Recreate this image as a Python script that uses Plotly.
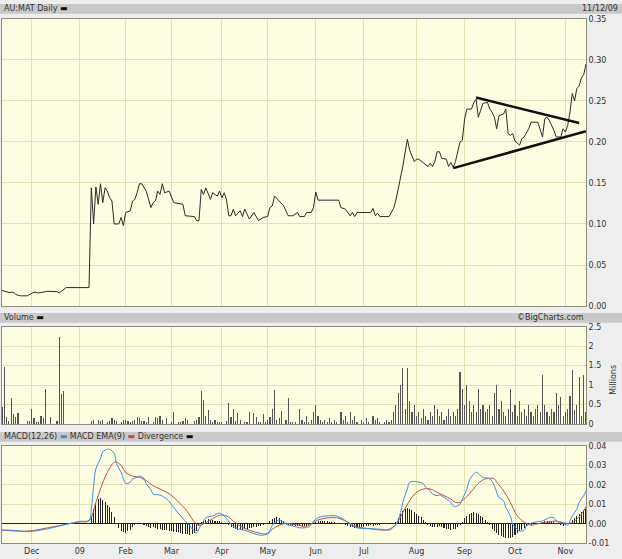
import pandas as pd
import plotly.graph_objects as go

# ---------------- calendar (ASX trading days) ----------------
holidays = ["2008-12-25", "2008-12-26", "2009-01-01", "2009-01-26",
            "2009-04-10", "2009-04-13", "2009-06-08"]
dates = [d for d in pd.bdate_range("2008-11-12", "2009-11-13")
         if d.strftime("%Y-%m-%d") not in holidays]
days = list(range(len(dates)))
month_start = [i for i in range(1, len(dates)) if dates[i].month != dates[i - 1].month]
month_labels = ["Dec", "09", "Feb", "Mar", "Apr", "May", "Jun", "Jul", "Aug", "Sep", "Oct", "Nov"]

# ---------------- price (daily close, AUD) : turning points ----------------
price_day = [0, 3, 5, 6, 8, 11, 14, 16, 18, 20, 24, 25, 28, 38, 39, 40, 41, 42, 43, 44,
             45, 46, 47, 48, 49, 51, 52, 53, 54, 56, 57, 58, 59, 60, 61, 63, 64, 65, 66, 67,
             68, 69, 70, 71, 73, 75, 79, 80, 84, 85, 86, 87, 88, 89, 91, 92, 94, 95, 96, 97,
             98, 99, 100, 101, 102, 104, 105, 106, 108, 110, 112, 114, 116, 117, 118, 119, 121, 123, 125, 127,
             129, 130, 132, 133, 135, 136, 137, 138, 147, 148, 150, 152, 153, 154, 155, 161, 162, 163, 164, 165,
             169, 171, 172, 173, 175, 177, 178, 180, 181, 182, 184, 185, 186, 187, 188, 189, 190, 191, 192, 194,
             195, 196, 197, 198, 200, 201, 202, 203, 205, 206, 207, 208, 209, 210, 212, 213, 214, 215, 216, 217,
             219, 220, 221, 222, 223, 224, 226, 227, 228, 230, 231, 234, 236, 237, 238, 239, 241, 242, 244, 245,
             246, 247, 248, 249, 250, 251, 252, 253, 254, 255]
price = [0.019, 0.0165, 0.017, 0.014, 0.0125, 0.0125, 0.017, 0.016, 0.017, 0.018, 0.0175, 0.016, 0.0225, 0.0225, 0.144, 0.100, 0.145, 0.124, 0.149, 0.126,
         0.144, 0.140, 0.132, 0.128, 0.100, 0.100, 0.108, 0.098, 0.114, 0.116, 0.128, 0.130, 0.138, 0.149, 0.149, 0.140, 0.130, 0.120, 0.126, 0.128,
         0.140, 0.136, 0.149, 0.138, 0.140, 0.126, 0.124, 0.110, 0.109, 0.104, 0.104, 0.142, 0.136, 0.144, 0.130, 0.138, 0.134, 0.140, 0.132, 0.138,
         0.130, 0.110, 0.110, 0.118, 0.110, 0.116, 0.109, 0.118, 0.106, 0.114, 0.104, 0.108, 0.109, 0.120, 0.122, 0.134, 0.128, 0.122, 0.110, 0.110,
         0.114, 0.109, 0.109, 0.114, 0.114, 0.120, 0.139, 0.129, 0.129, 0.120, 0.118, 0.110, 0.114, 0.109, 0.114, 0.114, 0.119, 0.110, 0.113, 0.109,
         0.109, 0.119, 0.129, 0.142, 0.170, 0.203, 0.190, 0.176, 0.179, 0.179, 0.174, 0.172, 0.170, 0.174, 0.170, 0.176, 0.188, 0.188, 0.180, 0.179,
         0.170, 0.175, 0.169, 0.176, 0.200, 0.202, 0.228, 0.240, 0.240, 0.248, 0.252, 0.230, 0.240, 0.247, 0.248, 0.240, 0.236, 0.230, 0.216, 0.232,
         0.234, 0.240, 0.210, 0.208, 0.210, 0.201, 0.196, 0.204, 0.206, 0.216, 0.224, 0.224, 0.206, 0.228, 0.230, 0.226, 0.214, 0.206, 0.206, 0.216,
         0.212, 0.220, 0.236, 0.259, 0.250, 0.265, 0.268, 0.278, 0.282, 0.295]

# hand-drawn triangle trend lines
trend_hi_day = [207, 252]
trend_hi = [0.254, 0.223]
trend_lo_day = [197, 255]
trend_lo = [0.168, 0.213]

# ---------------- volume (millions), one per trading day ----------------
volume = [0.45, 1.47, 0.18, 0.08, 0.66, 0.26, 0.18, 0.28, 0, 0,
          0, 0.08, 0.08, 0.38, 0.15, 0.05, 0.05, 0.2, 0.15, 0.9,
          0, 0.18, 0, 0, 0.08, 2.24, 0.77, 0.84, 0, 0,
          0, 0, 0, 0, 0, 0, 0, 0, 0, 0.08,
          0.1, 0, 0.1, 0.08, 0.1, 0, 0.05, 0.08, 0.15, 0.1,
          0.08, 0, 0.05, 0.1, 0.1, 0.08, 0.05, 0.08, 0.1, 0.18,
          0.15, 0.08, 0.08, 0.05, 0.18, 0, 0.05, 0.18, 0.15, 0.22,
          0.1, 0, 0.15, 0, 0.05, 0.3, 0, 0.05, 0.05, 0.08,
          0.15, 0.1, 0, 0, 0.08, 0.1, 0.18, 0.86, 0.63, 0.2,
          0.37, 0.1, 0.05, 0.1, 0.05, 0.05, 0.05, 0, 0.08, 0.54,
          0.18, 0.4, 0.08, 0.29, 0.1, 0, 0.05, 0.05, 0.3, 0,
          0.28, 0.18, 0.05, 0.05, 0.25, 0.05, 0.1, 0.18, 0.38, 0.88,
          0.1, 0.15, 0.33, 0, 0.1, 0.67, 0.05, 0.05, 0.05, 0,
          0.4, 0.1, 0.05, 0.2, 0.05, 0.1, 0.3, 0.5, 0.2, 0.1,
          0.05, 0.1, 0.05, 0.15, 0.05, 0.1, 0.05, 0, 0.3, 0.1,
          0.2, 0.05, 0.3, 0.1, 0.2, 0.05, 0, 0.1, 0.05, 0.15,
          0.05, 0, 0.2, 0.1, 0.15, 0.05, 0, 0.05, 0.1, 0.05,
          0.1, 0.3, 0.5, 0.8, 1.0, 1.45, 0.4, 1.45, 0.6, 0.3,
          0.5, 0.2, 0.3, 0.15, 0.4, 0.2, 0.1, 0.3, 0.2, 0.5,
          0.4, 0.2, 0.3, 0.1, 0.2, 0.4, 0.2, 0.3, 0.2, 0.4,
          1.35, 0.9, 0.5, 1.0, 0.6, 0.3, 0.5, 0.3, 0.9, 0.4,
          0.5, 0.3, 0.4, 0.5, 0.2, 0.8, 1.0, 0.4, 0.6, 0.3,
          0.2, 0.4, 0.9, 0.3, 0.5, 0.2, 0.6, 0.3, 0.4, 0.2,
          0.5, 0.3, 0.2, 0.4, 0.5, 0.3, 1.25, 0.5, 0.3, 0.2,
          0.4, 0.3, 0.8, 0.5, 0.69, 0.2, 0.3, 0.4, 0.73, 1.39,
          0.35, 0.48, 1.22, 0.2, 1.27, 0.3]

# ---------------- MACD(12,26) and its EMA(9) ----------------
macd_day = [0, 5, 11, 14, 20, 25, 30, 34, 38, 39, 40, 41, 43, 44, 46, 47, 49, 50, 52, 53,
            54, 56, 57, 59, 60, 62, 63, 65, 66, 69, 72, 75, 78, 81, 84, 85, 86, 88, 89, 92,
            95, 97, 100, 102, 107, 111, 114, 116, 117, 118, 120, 121, 123, 124, 127, 130, 132, 134, 137, 139,
            142, 146, 149, 152, 155, 161, 166, 169, 172, 174, 175, 177, 178, 181, 184, 185, 187, 188, 190, 191,
            193, 196, 197, 198, 200, 201, 203, 204, 206, 207, 209, 210, 213, 215, 216, 217, 219, 220, 222, 223,
            225, 226, 228, 229, 231, 233, 236, 239, 241, 242, 245, 247, 248, 249, 251, 252, 254, 255]
macd = [-0.0033, -0.0034, -0.0041, -0.0038, -0.0026, -0.0012, 0.0002, 0.0012, 0.0017, 0.0074, 0.0195, 0.0282, 0.0334, 0.0368, 0.0382, 0.0382, 0.0360, 0.0308, 0.0264, 0.0230,
        0.0207, 0.0213, 0.0230, 0.0238, 0.0244, 0.0233, 0.0204, 0.0175, 0.0152, 0.0147, 0.0126, 0.0083, 0.0040, 0.0002, -0.0038, -0.0047, -0.0026, 0.0014, 0.0031, 0.0040,
        0.0054, 0.0040, -0.0003, -0.0021, -0.0038, -0.0055, -0.0059, -0.0050, -0.0034, -0.0008, 0.0014, 0.0019, 0.0009, -0.0003, -0.0012, -0.0021, -0.0021, -0.0016, 0.0023, 0.0035,
        0.0040, 0.0040, 0.0023, -0.0003, -0.0021, -0.0026, -0.0029, -0.0033, -0.0003, 0.0057, 0.0109, 0.0178, 0.0213, 0.0216, 0.0204, 0.0187, 0.0169, 0.0152, 0.0144, 0.0147,
        0.0135, 0.0109, 0.0092, 0.0087, 0.0100, 0.0126, 0.0178, 0.0221, 0.0256, 0.0264, 0.0247, 0.0238, 0.0230, 0.0195, 0.0161, 0.0135, 0.0118, 0.0083, 0.0040, -0.0003,
        -0.0029, -0.0038, -0.0034, -0.0012, 0.0002, 0.0009, 0.0014, 0.0031, 0.0031, 0.0014, 0.0002, -0.0008, 0.0014, 0.0040, 0.0074, 0.0109, 0.0144, 0.0169]

signal_day = [0, 11, 20, 28, 34, 38, 41, 43, 46, 49, 50, 52, 54, 57, 60, 63, 66, 69, 72, 75,
              78, 81, 84, 86, 89, 92, 95, 98, 101, 104, 108, 113, 116, 118, 121, 124, 127, 130, 132, 134,
              137, 140, 146, 149, 152, 155, 161, 166, 169, 172, 175, 178, 181, 184, 187, 190, 193, 196, 198, 200,
              201, 204, 207, 210, 213, 215, 216, 219, 222, 225, 228, 231, 233, 236, 239, 242, 245, 248, 251, 254,
              255]
signal = [-0.0033, -0.0038, -0.0021, -0.0003, 0.0009, 0.0014, 0.0109, 0.0178, 0.0264, 0.0316, 0.0316, 0.0299, 0.0264, 0.0244, 0.0238, 0.0221, 0.0195, 0.0178, 0.0161, 0.0135,
          0.0100, 0.0061, 0.0009, -0.0008, 0.0005, 0.0026, 0.0043, 0.0040, 0.0014, -0.0012, -0.0034, -0.0050, -0.0052, -0.0029, -0.0008, 0.0002, -0.0003, -0.0008, -0.0016, -0.0008,
          0.0014, 0.0026, 0.0031, 0.0019, 0.0002, -0.0016, -0.0026, -0.0033, -0.0029, -0.0003, 0.0057, 0.0118, 0.0161, 0.0178, 0.0178, 0.0161, 0.0144, 0.0126, 0.0109, 0.0109,
          0.0118, 0.0152, 0.0195, 0.0225, 0.0233, 0.0230, 0.0213, 0.0169, 0.0109, 0.0040, 0.0009, -0.0008, -0.0003, 0.0005, 0.0009, 0.0014, 0.0005, 0.0002, 0.0023, 0.0066,
          0.0089]

# divergence histogram, one per trading day
divergence = [-0.0003, -0.0003, -0.0004, -0.0004, -0.0004, -0.0004, -0.0004, -0.0004, -0.0003, -0.0003,
              -0.0003, -0.0002, 0.0001, 0.0003, 0.0004, 0.0005, 0.0005, 0.0006, 0.0006, 0.0006,
              0.0006, 0.0005, 0.0006, 0.0005, 0.0005, 0.0005, 0.0004, 0.0005, 0.0006, 0.0005,
              0.0005, 0.0004, 0.0004, 0.0004, 0.0003, 0.0003, 0.0003, 0.0002, 0.0002, 0.0040,
              0.0075, 0.0105, 0.0125, 0.0130, 0.0120, 0.0110, 0.0095, 0.0085, 0.0060, 0.0035,
              0.0005, -0.0020, -0.0035, -0.0045, -0.0050, -0.0040, -0.0030, -0.0015, -0.0005, 0.0003,
              0.0005, 0.0002, -0.0005, -0.0012, -0.0015, -0.0020, -0.0018, -0.0022, -0.0025, -0.0025,
              -0.0030, -0.0032, -0.0030, -0.0035, -0.0040, -0.0042, -0.0045, -0.0045, -0.0050, -0.0052,
              -0.0055, -0.0055, -0.0058, -0.0055, -0.0048, -0.0035, -0.0010, 0.0008, 0.0015, 0.0020,
              0.0022, 0.0020, 0.0018, 0.0015, 0.0015, 0.0012, 0.0008, 0.0005, 0.0002, -0.0008,
              -0.0015, -0.0022, -0.0028, -0.0030, -0.0032, -0.0030, -0.0028, -0.0025, -0.0022, -0.0020,
              -0.0018, -0.0015, -0.0012, -0.0010, -0.0008, -0.0004, 0.0004, 0.0015, 0.0025, 0.0030,
              0.0032, 0.0028, 0.0020, 0.0012, 0.0005, -0.0005, -0.0008, -0.0010, -0.0012, -0.0012,
              -0.0013, -0.0014, -0.0012, -0.0010, -0.0008, -0.0003, 0.0005, 0.0010, 0.0014, 0.0015,
              0.0014, 0.0013, 0.0012, 0.0010, 0.0010, 0.0008, 0.0006, 0.0004, 0.0002, -0.0003,
              -0.0008, -0.0012, -0.0015, -0.0018, -0.0020, -0.0022, -0.0020, -0.0018, -0.0015, -0.0012,
              -0.0010, -0.0008, -0.0010, -0.0008, -0.0006, -0.0005, -0.0004, -0.0004, -0.0003, -0.0004,
              -0.0003, 0.0002, 0.0010, 0.0030, 0.0048, 0.0065, 0.0078, 0.0080, 0.0075, 0.0068,
              0.0060, 0.0052, 0.0042, 0.0032, 0.0020, 0.0008, -0.0005, -0.0010, -0.0015, -0.0018,
              -0.0015, -0.0014, -0.0018, -0.0022, -0.0026, -0.0028, -0.0030, -0.0028, -0.0025, -0.0018,
              -0.0008, 0.0010, 0.0030, 0.0042, 0.0050, 0.0055, 0.0058, 0.0055, 0.0048, 0.0040,
              0.0032, 0.0020, 0.0008, -0.0008, -0.0025, -0.0040, -0.0050, -0.0058, -0.0062, -0.0068,
              -0.0072, -0.0075, -0.0072, -0.0068, -0.0060, -0.0050, -0.0040, -0.0030, -0.0020, -0.0012,
              -0.0008, -0.0005, -0.0003, 0.0002, 0.0004, 0.0006, 0.0008, 0.0012, 0.0015, 0.0016,
              0.0014, 0.0008, 0.0002, -0.0004, -0.0008, -0.0010, -0.0008, -0.0002, 0.0010, 0.0020,
              0.0030, 0.0040, 0.0050, 0.0058, 0.0068, 0.0078]

# ---------------- axis ticks ----------------
price_ticks = [0, 0.05, 0.10, 0.15, 0.20, 0.25, 0.30, 0.35]
price_labels = ["0.00", "0.05", "0.10", "0.15", "0.20", "0.25", "0.30", "0.35"]
vol_ticks = [0, 0.5, 1, 1.5, 2, 2.5]
vol_labels = ["0", "0.5", "1", "1.5", "2", "2.5"]
macd_ticks = [-0.01, 0, 0.01, 0.02, 0.03, 0.04]
macd_labels = ["-0.01", "0.00", "0.01", "0.02", "0.03", "0.04"]

# ---------------- figure ----------------
W, H = 622, 559
def px(x):
    return x / W
def py(y):
    return 1 - y / H

PLOT_BG = "#fdfde1"
GRID = "#e2e2b2"
BAND = "#c9c9c9"
TXT = "#333333"
FONT = "DejaVu Sans"

fig = go.Figure()

fig.add_trace(go.Scatter(x=price_day, y=price, mode="lines",
                         line=dict(color="#2b2b2b", width=1), xaxis="x", yaxis="y"))
fig.add_trace(go.Scatter(x=trend_hi_day, y=trend_hi, mode="lines",
                         line=dict(color="#111111", width=2.5), xaxis="x", yaxis="y"))
fig.add_trace(go.Scatter(x=trend_lo_day, y=trend_lo, mode="lines",
                         line=dict(color="#111111", width=2.5), xaxis="x", yaxis="y"))

fig.add_trace(go.Bar(x=days, y=volume, width=0.5, marker=dict(color="#555555", line=dict(width=0)),
                     xaxis="x2", yaxis="y2"))

fig.add_trace(go.Bar(x=days, y=divergence, width=0.45, marker=dict(color="#222222", line=dict(width=0)),
                     xaxis="x3", yaxis="y3"))
fig.add_trace(go.Scatter(x=signal_day, y=signal, mode="lines", line_shape="spline",
                         line=dict(color="#c0504d", width=1), xaxis="x3", yaxis="y3"))
fig.add_trace(go.Scatter(x=macd_day, y=macd, mode="lines", line_shape="spline",
                         line=dict(color="#3b8ee8", width=1), xaxis="x3", yaxis="y3"))

xdom = [px(2), px(586)]
xcommon = dict(range=[0, len(dates) - 1], domain=xdom, tickmode="array",
               tickvals=month_start, ticktext=month_labels, showgrid=True,
               gridcolor=GRID, gridwidth=1, zeroline=False, showline=True,
               linecolor="#8c8c80", linewidth=1, mirror=True, ticks="",
               tickfont=dict(family=FONT, size=8, color=TXT), fixedrange=True)
ycommon = dict(side="right", showgrid=True, gridcolor=GRID, gridwidth=1,
               showline=True, linecolor="#8c8c80", linewidth=1, mirror=True,
               ticks="", tickmode="array", tickfont=dict(family=FONT, size=8, color=TXT),
               fixedrange=True)

fig.update_layout(
    width=W, height=H,
    margin=dict(l=0, r=0, t=0, b=0, pad=0),
    paper_bgcolor="#eeeeee",
    plot_bgcolor=PLOT_BG,
    showlegend=False,
    hovermode=False,
    bargap=0,
    xaxis=dict(xcommon, anchor="y", showticklabels=False),
    xaxis2=dict(xcommon, anchor="y2", showticklabels=False),
    xaxis3=dict(xcommon, anchor="y3", showticklabels=True),
    yaxis=dict(ycommon, domain=[py(307), py(15)], range=[0, 0.35], anchor="x",
               tickvals=price_ticks, ticktext=price_labels, zeroline=False),
    yaxis2=dict(ycommon, domain=[py(427), py(328)], range=[0, 2.5], anchor="x2",
                tickvals=vol_ticks, ticktext=vol_labels, zeroline=False),
    yaxis3=dict(ycommon, domain=[py(548), py(449)], range=[-0.01, 0.04], anchor="x3",
                tickvals=macd_ticks, ticktext=macd_labels, zeroline=True,
                zerolinecolor="#222222", zerolinewidth=1),
)

# header bands
shapes = []
for (y0, y1) in [(0, 10), (314, 324), (435, 445)]:
    shapes.append(dict(type="rect", xref="paper", yref="paper", x0=0, x1=1,
                       y0=py(y1), y1=py(y0), fillcolor=BAND, line=dict(width=0), layer="below"))
fig.update_layout(shapes=shapes)

ann = []
def label(x, y, text, anchor="left", size=8, angle=0):
    ann.append(dict(xref="paper", yref="paper", x=px(x), y=py(y), text=text, showarrow=False,
                    xanchor=anchor, yanchor="middle", textangle=angle,
                    font=dict(family=FONT, size=size, color=TXT)))

label(2, 5, "AU:MAT Daily <span style='color:#111'>▬</span>")
label(620, 5, "11/12/09", anchor="right")
label(2, 319, "Volume <span style='color:#111'>▬</span>")
label(586, 319, "©BigCharts.com", anchor="right")
label(2, 440, "MACD(12,26) <span style='color:#3b8ee8'>▬</span> MACD EMA(9) "
              "<span style='color:#c0504d'>▬</span> Divergence <span style='color:#111'>▬</span>")
label(614, 382, "Millions", anchor="center", angle=-90)
fig.update_layout(annotations=ann)

fig.write_html("out.html", config={"displayModeBar": False, "staticPlot": True},
               post_script="document.body.style.margin='0px';document.body.style.overflow='hidden';")
